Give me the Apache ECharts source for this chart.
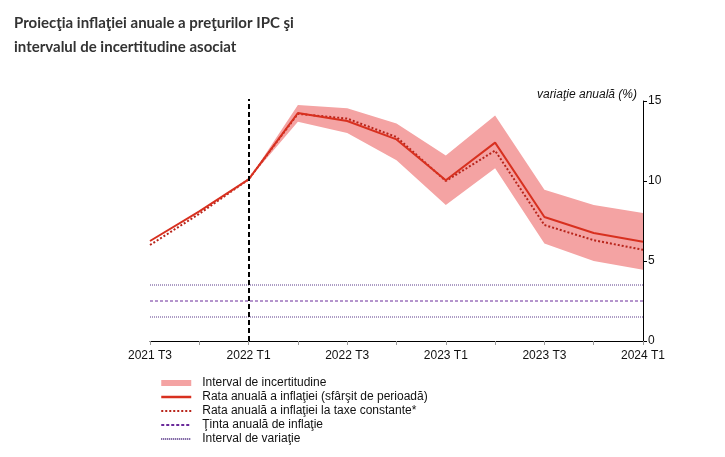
<!DOCTYPE html>
<html><head><meta charset="utf-8">
<script src="https://cdn.jsdelivr.net/npm/echarts@6/dist/echarts.min.js"></script>
<style>html,body{margin:0;padding:0;background:#fff}#c{width:725px;height:457px}</style>
</head><body><div id="c"></div>
<script>
var categories = ['2021 T3','2021 T4','2022 T1','2022 T2','2022 T3','2022 T4','2023 T1','2023 T2','2023 T3','2023 T4','2024 T1'];
var inflation = [6.25, 8.1, 10.1, 14.25, 13.75, 12.6, 10.05, 12.4, 7.75, 6.75, 6.2];
var inflationConstTax = [6.0, 7.95, 10.1, 14.2, 13.9, 12.75, 10.0, 11.9, 7.25, 6.3, 5.7];
var bandLower = [null, null, 10.1, 13.7, 13.0, 11.3, 8.5, 10.8, 6.1, 5.0, 4.45];
var bandUpper = [null, null, 10.1, 14.75, 14.55, 13.6, 11.6, 14.1, 9.45, 8.5, 8.0];
var target = [2.5, 2.5, 2.5, 2.5, 2.5, 2.5, 2.5, 2.5, 2.5, 2.5, 2.5];
var rangeUpper = [3.5, 3.5, 3.5, 3.5, 3.5, 3.5, 3.5, 3.5, 3.5, 3.5, 3.5];
var rangeLower = [1.5, 1.5, 1.5, 1.5, 1.5, 1.5, 1.5, 1.5, 1.5, 1.5, 1.5];
var yTicks = [0, 5, 10, 15];

var bandWidth = bandUpper.map(function(u, i){ return u == null ? null : +(u - bandLower[i]).toFixed(2); });
var chart = echarts.init(document.getElementById('c'));
var F = 'Arial, "Liberation Sans", sans-serif';
chart.setOption({
  animation: false,
  title: {
    text: 'Proiecţia inflaţiei anuale a preţurilor IPC şi\nintervalul de incertitudine asociat',
    left: 9, top: 6,
    textStyle: {fontFamily: 'Lato, sans-serif', fontSize: 15, fontWeight: 'bold', color: '#333', lineHeight: 24}
  },
  grid: {left: 150, right: 82, top: 101, bottom: 116},
  legend: {
    orient: 'vertical', left: 160, top: 377, itemGap: 2, itemWidth: 30, itemHeight: 12, padding: 0,
    itemStyle: {opacity: 0},
    textStyle: {fontFamily: F, fontSize: 12, color: '#111', padding: [0,0,0,6]},
    data: [
      {name: 'Interval de incertitudine', icon: 'path://M0,3 L30,3 L30,9 L0,9 Z', itemStyle: {color: '#f4a3a3', opacity: 1}},
      {name: 'Rata anuală a inflaţiei (sfârşit de perioadă)', lineStyle: {width: 2.5}},
      {name: 'Rata anuală a inflaţiei la taxe constante*', lineStyle: {width: 2}},
      {name: 'Ţinta anuală de inflaţie'},
      {name: 'Interval de variaţie'}
    ]
  },
  xAxis: {
    type: 'category', data: categories, boundaryGap: false,
    axisLine: {lineStyle: {color: '#000', width: 1}},
    axisTick: {show: true, interval: 0, length: 4, lineStyle: {color: '#999'}},
    axisLabel: {interval: 1, fontFamily: F, fontSize: 12, color: '#111', margin: 9},
    splitLine: {show: false}
  },
  yAxis: {
    type: 'value', position: 'right', min: yTicks[0], max: yTicks[yTicks.length-1], interval: 5,
    name: 'variaţie anuală (%)', nameLocation: 'end', nameGap: 0,
    nameTextStyle: {fontFamily: F, fontSize: 12, fontStyle: 'italic', color: '#111', align: 'right', padding: [0, 6, 0, 0]},
    axisLine: {show: true, lineStyle: {color: '#000'}},
    axisTick: {show: true, length: 4, lineStyle: {color: '#000'}},
    axisLabel: {fontFamily: F, fontSize: 12, color: '#111', margin: 5},
    splitLine: {show: false}
  },
  series: [
    {name: 'bandBase', type: 'line', data: bandLower, stack: 'band', symbol: 'none', silent: true,
     lineStyle: {opacity: 0}, areaStyle: {opacity: 0}, legendHoverLink: false},
    {name: 'Interval de incertitudine', type: 'line', data: bandWidth, stack: 'band', symbol: 'none',
     lineStyle: {opacity: 0}, areaStyle: {color: '#f4a3a3', opacity: 1}, itemStyle: {color: '#f4a3a3'}},
    {name: 'Interval de variaţie', type: 'line', data: rangeUpper, symbol: 'none',
     lineStyle: {color: '#5a3a8a', width: 1, type: [1, 1]}, itemStyle: {color: '#5a3a8a'}},
    {name: 'Interval de variaţie', type: 'line', data: rangeLower, symbol: 'none',
     lineStyle: {color: '#5a3a8a', width: 1, type: [1, 1]}, itemStyle: {color: '#5a3a8a'}},
    {name: 'Ţinta anuală de inflaţie', type: 'line', data: target, symbol: 'none',
     lineStyle: {color: '#6a2a9a', width: 1, type: [3, 2]}, itemStyle: {color: '#6a2a9a'}},
    {name: 'Rata anuală a inflaţiei la taxe constante*', type: 'line', data: inflationConstTax, symbol: 'none',
     lineStyle: {color: '#b8241a', width: 2, type: [2, 2]}, itemStyle: {color: '#b8241a'}},
    {name: 'Rata anuală a inflaţiei (sfârşit de perioadă)', type: 'line', data: inflation, symbol: 'none',
     lineStyle: {color: '#d8301f', width: 2}, itemStyle: {color: '#d8301f'},
     markLine: {silent: true, symbol: 'none', label: {show: false},
       lineStyle: {color: '#000', width: 2, type: [5, 3]},
       data: [[{xAxis: '2022 T1', yAxis: 0}, {xAxis: '2022 T1', y: 99}]]}}
  ]
});
</script></body></html>
